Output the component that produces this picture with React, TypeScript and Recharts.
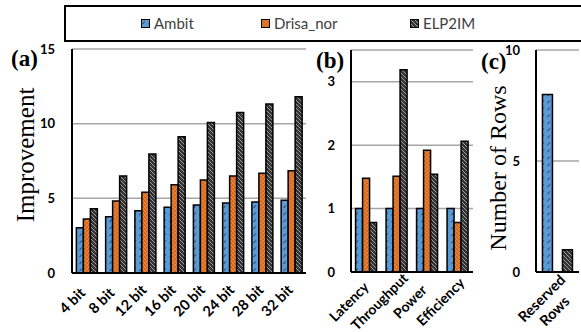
import React from 'react';
import { BarChart, Bar, XAxis, YAxis, CartesianGrid } from 'recharts';

const seriesNames = ['Ambit', 'Drisa_nor', 'ELP2IM'];

const bitCategories = ['4 bit', '8 bit', '12 bit', '16 bit', '20 bit', '24 bit', '28 bit', '32 bit'];
const ambitBits = [3.03, 3.77, 4.17, 4.4, 4.55, 4.69, 4.75, 4.87];
const drisaBits = [3.62, 4.82, 5.4, 5.91, 6.23, 6.5, 6.68, 6.85];
const elpBits = [4.31, 6.5, 7.97, 9.13, 10.07, 10.74, 11.32, 11.81];
const bitTicks = [0, 5, 10, 15];

const metricCategories = ['Latency', 'Throughput', 'Power', 'Efficiency'];
const ambitMetrics = [1, 1, 1, 1];
const drisaMetrics = [1.48, 1.51, 1.92, 0.78];
const elpMetrics = [0.78, 3.19, 1.54, 2.06];
const metricTicks = [0, 1, 2, 3];

const rowCategories = ['Reserved Rows'];
const ambitRows = [8];
const drisaRows = [0];
const elpRows = [1];
const rowTicks = [0, 5, 10];

const build = (cats: string[], a: number[], d: number[], e: number[]) =>
  cats.map((c, i) => ({ name: c, ambit: a[i], drisa: d[i], elp: e[i] }));

const bitData = build(bitCategories, ambitBits, drisaBits, elpBits);
const metricData = build(metricCategories, ambitMetrics, drisaMetrics, elpMetrics);
const rowData = build(rowCategories, ambitRows, drisaRows, elpRows);

const W = 581;
const H = 332;
const tickFont = { fill: '#000', fontSize: 13, fontWeight: 700, fontFamily: 'Lato, "DejaVu Sans", sans-serif' };

const AngledTick = (props: any) => {
  const { x, y, payload, offX, offY, wrap, size } = props;
  const lines: string[] = wrap ? String(payload.value).split(' ') : [String(payload.value)];
  const lh = 18;
  return (
    <g transform={`translate(${x + offX},${y + offY})`}>
      <text
        transform="rotate(-45)"
        textAnchor="middle"
        dominantBaseline="central"
        fontSize={size}
        fontWeight={700}
        fontFamily='Lato, "DejaVu Sans", sans-serif'
        fill="#000"
      >
        {lines.map((l, i) => (
          <tspan key={i} x={0} y={(i - (lines.length - 1) / 2) * lh}>
            {l}
          </tspan>
        ))}
      </text>
    </g>
  );
};

const Defs = () => (
  <svg width={0} height={0} style={{ position: 'absolute' }}>
    <defs>
      <pattern id="patAmbit" patternUnits="userSpaceOnUse" width={6} height={7}>
        <rect width={6} height={7} fill="#5B9BD5" />
        <path d="M1.5,5.2 L3.8,2.4" stroke="#1B3350" strokeWidth={1} />
      </pattern>
      <pattern id="patDrisa" patternUnits="userSpaceOnUse" width={4} height={4}>
        <rect width={4} height={4} fill="#ED7D31" />
        <circle cx={1} cy={1} r={0.6} fill="#6B3000" />
        <circle cx={3} cy={3} r={0.6} fill="#6B3000" />
      </pattern>
      <pattern id="patElp" patternUnits="userSpaceOnUse" width={4} height={4}>
        <rect width={4} height={4} fill="#333333" />
        <path d="M0,0 L4,4 M-1,3 L1,5 M3,-1 L5,1" stroke="#A8A8A8" strokeWidth={0.9} />
      </pattern>
    </defs>
  </svg>
);

type PanelProps = {
  data: any[];
  left: number;
  right: number;
  top: number;
  bottom: number;
  max: number;
  ticks: number[];
  tickMargin: number;
  offX: number;
  offY: number;
  size: number;
  wrap?: boolean;
};

const Panel = ({ data, left, right, top, bottom, max, ticks, tickMargin, offX, offY, size, wrap }: PanelProps) => (
  <div style={{ position: 'absolute', left: 0, top: 0 }}>
    <BarChart
      width={W}
      height={H}
      data={data}
      margin={{ top, right: W - right, bottom: 0, left: 0 }}
      barCategoryGap="15%"
      barGap={0}
    >
      <CartesianGrid vertical={false} stroke="#A6A6A6" strokeWidth={1.5} />
      <XAxis
        dataKey="name"
        height={H - bottom}
        axisLine={{ stroke: '#000', strokeWidth: 2 }}
        tickLine={false}
        tickSize={0}
        tickMargin={0}
        interval={0}
        tick={(p: any) => <AngledTick {...p} offX={offX} offY={offY} wrap={wrap} size={size} />}
      />
      <XAxis
        xAxisId="top"
        dataKey="name"
        orientation="top"
        height={0}
        tick={false}
        tickLine={false}
        axisLine={{ stroke: '#000', strokeWidth: 2 }}
      />
      <YAxis
        width={left}
        domain={[0, max]}
        ticks={ticks}
        allowDataOverflow
        axisLine={{ stroke: '#000', strokeWidth: 2 }}
        tickLine={false}
        tickSize={0}
        tickMargin={tickMargin}
        tick={tickFont}
      />
      <YAxis
        yAxisId="r"
        orientation="right"
        width={0}
        domain={[0, max]}
        tick={false}
        tickLine={false}
        axisLine={{ stroke: '#000', strokeWidth: 2 }}
      />
      <Bar dataKey="ambit" name={seriesNames[0]} fill="url(#patAmbit)" stroke="#000" strokeWidth={1.5} isAnimationActive={false} />
      <Bar dataKey="drisa" name={seriesNames[1]} fill="url(#patDrisa)" stroke="#000" strokeWidth={1.5} isAnimationActive={false} />
      <Bar dataKey="elp" name={seriesNames[2]} fill="url(#patElp)" stroke="#000" strokeWidth={1.5} isAnimationActive={false} />
    </BarChart>
  </div>
);

const legendItems = [
  { name: seriesNames[0], fill: 'url(#patAmbit)', x: 141 },
  { name: seriesNames[1], fill: 'url(#patDrisa)', x: 261 },
  { name: seriesNames[2], fill: 'url(#patElp)', x: 410 },
];

const Legend = () => (
  <div
    style={{
      position: 'absolute',
      left: 64,
      top: 5,
      width: W - 64 + 4,
      height: 37,
      boxSizing: 'border-box',
      border: '2px solid #000',
    }}
  >
    {legendItems.map((it) => (
      <div
        key={it.name}
        style={{
          position: 'absolute',
          left: it.x - 66,
          top: 7,
          display: 'flex',
          alignItems: 'center',
          fontFamily: 'Lato, "DejaVu Sans", sans-serif',
          fontSize: 15,
          color: '#404040',
          whiteSpace: 'nowrap',
        }}
      >
        <svg width={9} height={9} style={{ marginRight: 4 }}>
          <rect x={0.5} y={0.5} width={8} height={8} fill={it.fill} stroke="#000" strokeWidth={1} />
        </svg>
        <span>{it.name}</span>
      </div>
    ))}
  </div>
);

const Overlay = () => (
  <svg width={W} height={H} style={{ position: 'absolute', left: 0, top: 0, pointerEvents: 'none' }}>
    <g fontFamily='"Liberation Serif", "DejaVu Serif", serif' fill="#000">
      <text x={11} y={66} fontSize={23} fontWeight={700}>(a)</text>
      <text x={316} y={68} fontSize={23} fontWeight={700}>(b)</text>
      <text x={481} y={69} fontSize={23} fontWeight={700}>(c)</text>
      <text transform="translate(25,155) rotate(-90)" textAnchor="middle" dominantBaseline="central" fontSize={25}>
        Improvement
      </text>
      <text transform="translate(498,168) rotate(-90)" textAnchor="middle" dominantBaseline="central" fontSize={24}>
        Number of Rows
      </text>
    </g>
  </svg>
);

export default function App() {
  return (
    <div style={{ position: 'absolute', left: 0, top: 0, width: W, height: H, background: '#fff', overflow: 'hidden' }}>
      <Defs />
      <Panel data={bitData} left={72} right={306} top={49} bottom={273} max={15} ticks={bitTicks} tickMargin={17} offX={-15} offY={27} size={14.5} />
      <Panel data={metricData} left={351} right={473} top={50} bottom={272} max={3.5} ticks={metricTicks} tickMargin={16} offX={-18} offY={29} size={14} />
      <Panel data={rowData} left={536} right={579} top={50} bottom={272} max={10} ticks={rowTicks} tickMargin={16} offX={-10} offY={32} size={14.5} wrap />
      <Overlay />
      <Legend />
    </div>
  );
}
